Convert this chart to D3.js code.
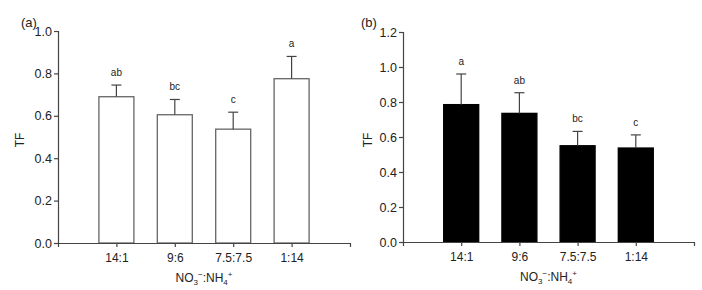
<!DOCTYPE html>
<html>
<head>
<meta charset="utf-8">
<script src="https://cdn.jsdelivr.net/npm/d3@7"></script>
<style>
  body { margin: 0; background: #fff; }
  text { font-family: "Liberation Sans", Arial, sans-serif; fill: #222; }
</style>
</head>
<body>
<svg id="chart" width="702" height="290"></svg>
<script>
// data
const categories = ["14:1", "9:6", "7.5:7.5", "1:14"];
const tfA = [0.69, 0.605, 0.537, 0.775];
const errA = [0.055, 0.072, 0.08, 0.105];
const lettersA = ["ab", "bc", "c", "a"];
const tfB = [0.785, 0.735, 0.55, 0.537];
const errB = [0.175, 0.118, 0.082, 0.075];
const lettersB = ["a", "ab", "bc", "c"];
const ticksA = [0, 0.2, 0.4, 0.6, 0.8, 1.0];
const ticksB = [0, 0.2, 0.4, 0.6, 0.8, 1.0, 1.2];

const svg = d3.select("#chart");
const axisColor = "#444";

function drawPanel(opt) {
  const g = svg.append("g");

  const x = d3.scalePoint()
      .domain(categories)
      .range([opt.x0, opt.x1])
      .padding(1);
  const y = d3.scaleLinear()
      .domain([0, opt.yMax])
      .range([opt.y0, opt.y1]);

  // bars
  const barW = 35;
  g.selectAll(".bar")
    .data(opt.values)
    .enter()
    .append("rect")
    .attr("x", (d, i) => x(categories[i]) - barW / 2)
    .attr("y", d => y(d))
    .attr("width", barW)
    .attr("height", d => opt.y0 - y(d))
    .style("fill", opt.fill)
    .style("stroke", opt.stroke)
    .style("stroke-width", 1.3);

  // error bars
  const eb = g.selectAll(".err")
    .data(opt.values)
    .enter()
    .append("g");
  eb.append("line")
    .attr("x1", (d, i) => x(categories[i]))
    .attr("x2", (d, i) => x(categories[i]))
    .attr("y1", d => y(d))
    .attr("y2", (d, i) => y(d + opt.err[i]))
    .style("stroke", "#444")
    .style("stroke-width", 1.2);
  eb.append("line")
    .attr("x1", (d, i) => x(categories[i]) - 5)
    .attr("x2", (d, i) => x(categories[i]) + 5)
    .attr("y1", (d, i) => y(d + opt.err[i]))
    .attr("y2", (d, i) => y(d + opt.err[i]))
    .style("stroke", "#444")
    .style("stroke-width", 1.2);

  // significance letters
  g.selectAll(".sig")
    .data(opt.values)
    .enter()
    .append("text")
    .text((d, i) => opt.letters[i])
    .attr("x", (d, i) => x(categories[i]))
    .attr("y", (d, i) => y(d + opt.err[i]) - 9)
    .attr("text-anchor", "middle")
    .style("font-size", "10px");

  // axes
  const yAxis = d3.axisLeft(y)
      .tickValues(opt.ticks)
      .tickFormat(d3.format(".1f"))
      .tickSizeOuter(0)
      .tickSize(4)
      .tickPadding(2);
  const ya = g.append("g")
    .attr("transform", "translate(" + opt.x0 + ",0)")
    .call(yAxis);

  const xAxis = d3.axisBottom(x)
      .tickSizeOuter(0)
      .tickSize(4)
      .tickPadding(6);
  const xa = g.append("g")
    .attr("transform", "translate(0," + opt.y0 + ")")
    .call(xAxis);

  [ya, xa].forEach(a => {
    a.select(".domain").style("stroke", axisColor).style("stroke-width", 1.2);
    a.selectAll(".tick line").style("stroke", axisColor).style("stroke-width", 1.2);
    a.selectAll("text")
      .style("font-size", "12px")
      .style("font-family", "Liberation Sans, Arial, sans-serif")
      .style("fill", "#222");
  });
  ya.selectAll("text").style("font-size", "12.5px");

  // labels
  g.append("text")
    .text(opt.label)
    .attr("x", opt.labelX)
    .attr("y", 27)
    .style("font-size", "13px");

  g.append("text")
    .text("TF")
    .attr("transform", "translate(" + opt.tfX + "," + (opt.tfY) + ") rotate(-90)")
    .attr("text-anchor", "middle")
    .style("font-size", "12px");

  const xl = g.append("text")
    .attr("x", (opt.x0 + opt.x1) / 2)
    .attr("y", opt.y0 + 39)
    .attr("text-anchor", "middle")
    .style("font-size", "12px");
  xl.append("tspan").text("NO");
  xl.append("tspan").text("3").attr("dy", 3).style("font-size", "8px");
  xl.append("tspan").text("\u2212").attr("dy", -8).style("font-size", "8px");
  xl.append("tspan").text(":NH").attr("dy", 5);
  xl.append("tspan").text("4").attr("dy", 3).style("font-size", "8px");
  xl.append("tspan").text("+").attr("dy", -8).style("font-size", "8px");
}

drawPanel({
  x0: 58, x1: 350, y0: 243, y1: 31, yMax: 1.0,
  values: tfA, err: errA, letters: lettersA, ticks: ticksA,
  fill: "#fff", stroke: "#666",
  label: "(a)", labelX: 21, tfX: 24, tfY: 140
});

drawPanel({
  x0: 403, x1: 694, y0: 242, y1: 32, yMax: 1.2,
  values: tfB, err: errB, letters: lettersB, ticks: ticksB,
  fill: "#000", stroke: "#000",
  label: "(b)", labelX: 361, tfX: 372, tfY: 140
});
</script>
</body>
</html>
